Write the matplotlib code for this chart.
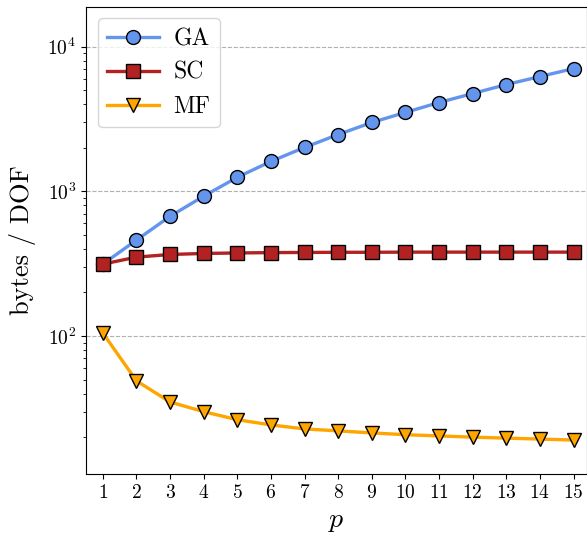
import matplotlib
matplotlib.use("Agg")
import matplotlib.pyplot as plt
import numpy as np

p = list(range(1, 16))
ga = [314, 460, 672, 925, 1250, 1610, 2010, 2470, 2990, 3510, 4110, 4740, 5470, 6210, 7050]
sc = [314, 351, 366, 372, 375, 377, 378, 379, 379, 380, 380, 380, 380, 380, 380]
mf = [105, 49, 35, 30, 26.4, 24.3, 22.8, 22.1, 21.4, 20.8, 20.4, 20.0, 19.7, 19.4, 19.1]

plt.rcParams['font.family'] = 'serif'
plt.rcParams['font.serif'] = ['cmr10', 'DejaVu Serif']
plt.rcParams['mathtext.fontset'] = 'cm'
plt.rcParams['axes.formatter.use_mathtext'] = True

fig = plt.figure(figsize=(5.87, 5.35), dpi=100)
ax = fig.add_axes([0.1465, 0.1134, 0.8535, 0.8741])

kw = dict(lw=2.4, markersize=10, markeredgecolor='black', markeredgewidth=1.0)
ax.plot(p, ga, '-o', color='#6495ED', label='GA', **kw)
ax.plot(p, sc, '-s', color='#B22222', label='SC', **kw)
ax.plot(p, mf, '-v', color='#FFA500', label='MF', **kw)

ax.set_yscale('log')
ax.set_ylim(11.07, 18880)
ax.set_xlim(0.5, 15.4)
ax.set_xticks(p)
ax.tick_params(axis='both', labelsize=14)
ax.grid(True, which='major', axis='y', linestyle='--', color='#b0b0b0', lw=0.8)
ax.set_axisbelow(True)
ax.set_xlabel('$p$', fontsize=20)
ax.set_ylabel('bytes / DOF', fontsize=19, labelpad=8)
leg = ax.legend(loc='upper left', fontsize=17, handlelength=2.2,
                handletextpad=0.6, borderaxespad=0.5)

fig.savefig('out.png', dpi=100)
